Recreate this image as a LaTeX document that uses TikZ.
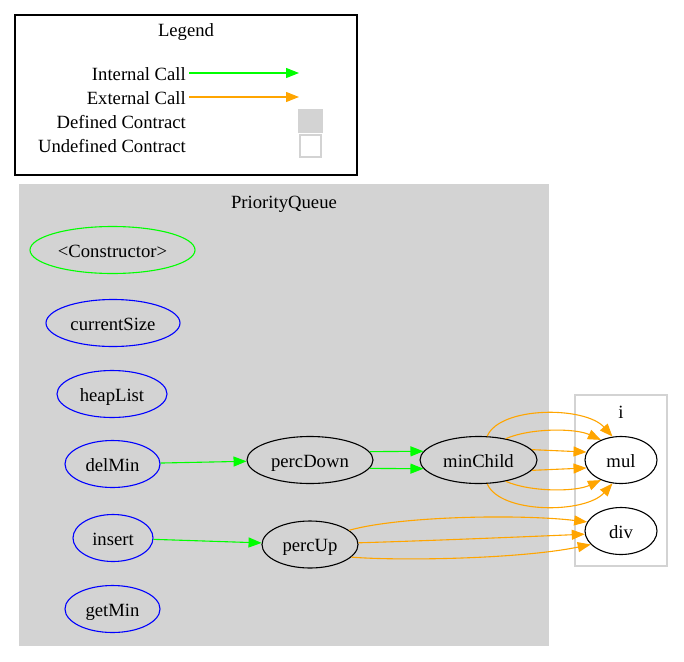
\documentclass[tikz,border=0pt]{standalone}
\usepackage{fontspec}
\setmainfont{Liberation Serif}
\usetikzlibrary{shapes.geometric,arrows.meta}
\definecolor{gvgreen}{HTML}{00FF00}
\definecolor{gvorange}{HTML}{FFA500}
\definecolor{gvblue}{HTML}{0000FF}
\definecolor{gvgray}{HTML}{D3D3D3}
\begin{document}
\begin{tikzpicture}[x=1pt,y=-1pt,
  font=\fontsize{18.67}{22}\selectfont,
  every node/.style={text height=14pt, text depth=0pt},
  fn/.style={ellipse, draw, line width=1.1pt, minimum height=47pt, inner sep=0pt},
  call/.style={line width=1.1pt, -{Triangle[length=13pt,width=10pt]}},
  int/.style={call, draw=gvgreen, fill=none},
  ext/.style={call, draw=gvorange, fill=none},
  lbl/.style={inner sep=0pt}
]
\useasboundingbox (0,0) rectangle (684,661);
% Legend
\draw[line width=1.3pt] (15,15) rectangle (357,175);
\node[lbl] (legend) at (186,30) {Legend};
\node[lbl,anchor=east] (lint) at (186,73) {Internal Call};
\node[lbl,anchor=east] (lext) at (186,97) {External Call};
\node[lbl,anchor=east] (ldef) at (186,121) {Defined Contract};
\node[lbl,anchor=east] (lund) at (186,145) {Undefined Contract};
\coordinate (li1) at (189,73);
\coordinate (li2) at (299,73);
\coordinate (le1) at (189,97);
\coordinate (le2) at (299,97);
\draw[int] (li1) -- (li2);
\draw[ext] (le1) -- (le2);
\fill[gvgray] (298,109) rectangle (323,133);
\draw[gvgray, line width=1.1pt, fill=white] (300,135) rectangle (321,157);
% Cluster PriorityQueue
\draw[gvgray, fill=gvgray, line width=1.1pt] (20,185) rectangle (548,645);
\node[lbl] (pqlabel) at (284,201) {PriorityQueue};
% Cluster i
\draw[gvgray, fill=white, line width=1.1pt] (575,395) rectangle (667,566);
\node[lbl] (ilabel) at (621,411) {i};
% Nodes
\node[fn, draw=gvgreen, minimum width=165pt] (ctor) at (112.5,250) {<Constructor>};
\node[fn, draw=gvblue, minimum width=134pt] (cs) at (113,323) {currentSize};
\node[fn, draw=gvblue, minimum width=110pt] (hl) at (112,394) {heapList};
\node[fn, draw=gvblue, minimum width=95pt] (dm) at (112.5,464) {delMin};
\node[fn, draw=gvblue, minimum width=80pt] (ins) at (113,538) {insert};
\node[fn, draw=gvblue, minimum width=95pt] (gm) at (112.5,609) {getMin};
\node[fn, minimum width=126pt] (pd) at (310,460) {percDown};
\node[fn, minimum width=117pt] (mc) at (478.5,460) {minChild};
\node[fn, minimum width=96pt] (pu) at (310,544.5) {percUp};
\node[fn, fill=white, minimum width=72pt] (mul) at (621,460) {mul};
\node[fn, fill=white, minimum width=72pt] (div) at (621,531) {div};
% Edges
\draw[int] (dm) -- (pd);
\draw[int] (ins) -- (pu);
\draw[int] (pd.8.8) -- (mc.171.2);
\draw[int] (pd.-8.8) -- (mc.-171.2);
\draw[ext] (mc.70) .. controls (500,406) and (585,406) .. (mul.110);
\draw[ext] (mc.38) .. controls (530,428) and (575,428) .. (mul.135);
\draw[ext] (mc.11) -- (mul.167);
\draw[ext] (mc.-11) -- (mul.-167);
\draw[ext] (mc.-38) .. controls (530,492) and (575,492) .. (mul.-135);
\draw[ext] (mc.-70) .. controls (500,514) and (585,514) .. (mul.-110);
\draw[ext] (pu.20) .. controls (400,516) and (520,514) .. (div.165);
\draw[ext] (pu.2) .. controls (420,541) and (520,537) .. (div.185);
\draw[ext] (pu.-17) .. controls (400,561) and (520,559) .. (div.204);
\end{tikzpicture}
\end{document}
